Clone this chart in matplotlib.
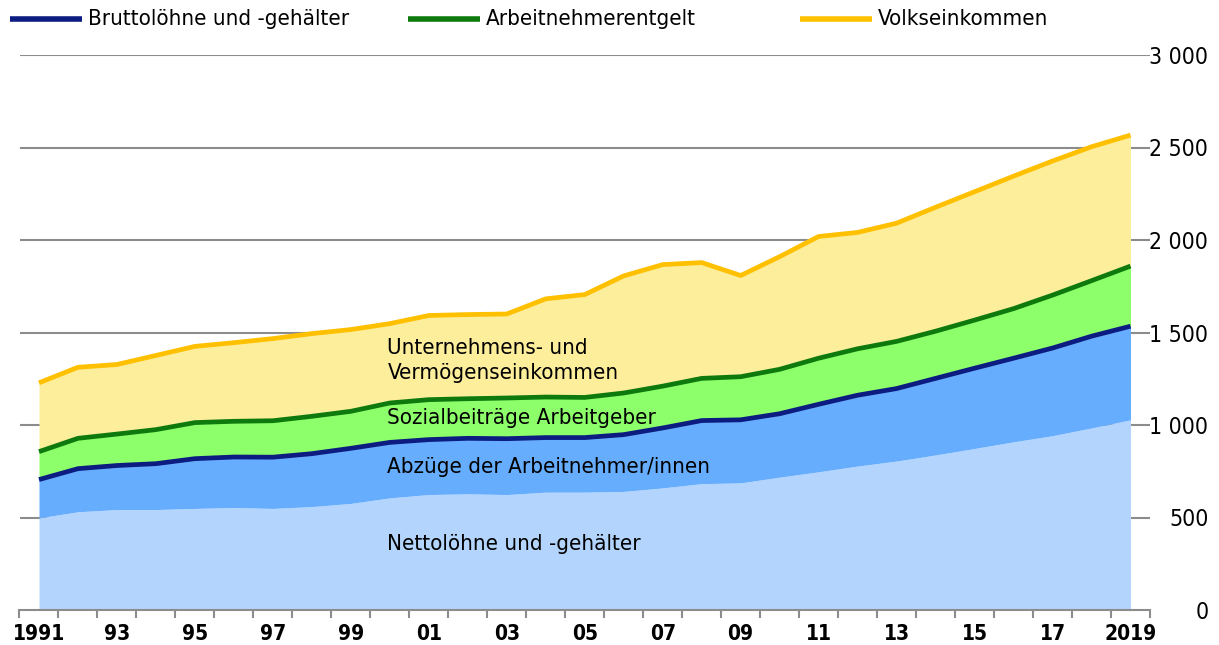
import matplotlib
matplotlib.use("Agg")
import matplotlib.pyplot as plt
from matplotlib.lines import Line2D
import numpy as np

years = list(range(1991, 2020))
volkseinkommen = [1228, 1312, 1327, 1376, 1425, 1445, 1467, 1494, 1516, 1548, 1592, 1597, 1600, 1682, 1705,
                  1806, 1867, 1878, 1808, 1910, 2019, 2041, 2091, 2177, 2261, 2345, 2427, 2504, 2567]
arbeitnehmerentgelt = [856, 928, 951, 975, 1013, 1020, 1023, 1047, 1074, 1119, 1137, 1142, 1146, 1151, 1149,
                       1173, 1210, 1252, 1261, 1301, 1361, 1412, 1452, 1507, 1567, 1629, 1702, 1780, 1859]
bruttoloehne = [705, 764, 781, 791, 818, 827, 826, 845, 874, 906, 921, 928, 926, 932, 932,
                948, 984, 1024, 1028, 1061, 1112, 1161, 1197, 1252, 1307, 1361, 1416, 1480, 1534]
nettoloehne = [498, 531, 543, 543, 549, 554, 549, 559, 576, 606, 624, 628, 624, 637, 637,
               641, 660, 683, 687, 718, 747, 778, 805, 838, 873, 909, 942, 984, 1028]

xtick_years = [1991, 1993, 1995, 1997, 1999, 2001, 2003, 2005, 2007, 2009, 2011, 2013, 2015, 2017, 2019]
xtick_labels = ["1991", "93", "95", "97", "99", "01", "03", "05", "07", "09", "11", "13", "15", "17", "2019"]
ytick_vals = [0, 500, 1000, 1500, 2000, 2500, 3000]
ytick_labels = ["0", "500", "1 000", "1 500", "2 000", "2 500", "3 000"]

legend_labels = ["Bruttolöhne und -gehälter", "Arbeitnehmerentgelt", "Volkseinkommen"]
area_labels = ["Unternehmens- und\nVermögenseinkommen", "Sozialbeiträge Arbeitgeber",
               "Abzüge der Arbeitnehmer/innen", "Nettolöhne und -gehälter"]

FONT = dict(family="DejaVu Sans", stretch="condensed")
plt.rcParams['font.family'] = 'DejaVu Sans'

c_netto = "#b3d5fd"
c_abz = "#66adfd"
c_sozial = "#8dff6a"
c_unt = "#fdee9b"
c_brutto_line = "#0c1c80"
c_arb_line = "#0e7a0e"
c_volks_line = "#ffc000"
grid_c = "#8c8c8c"

W, H = 1219, 645
fig = plt.figure(figsize=(W / 100, H / 100), dpi=100)
ax = fig.add_axes([19.5 / W, 1 - 610 / H, (1150 - 19.5) / W, (610 - 55) / H])

x = np.array(years)
ax.fill_between(x, 0, nettoloehne, color=c_netto, lw=0, zorder=2)
ax.fill_between(x, nettoloehne, bruttoloehne, color=c_abz, lw=0, zorder=2)
ax.fill_between(x, bruttoloehne, arbeitnehmerentgelt, color=c_sozial, lw=0, zorder=2)
ax.fill_between(x, arbeitnehmerentgelt, volkseinkommen, color=c_unt, lw=0, zorder=2)
ax.plot(x, bruttoloehne, color=c_brutto_line, lw=3.4, solid_capstyle='butt', solid_joinstyle='round', zorder=3)
ax.plot(x, arbeitnehmerentgelt, color=c_arb_line, lw=3.4, solid_capstyle='butt', solid_joinstyle='round', zorder=3)
ax.plot(x, volkseinkommen, color=c_volks_line, lw=3.4, solid_capstyle='butt', solid_joinstyle='round', zorder=3)

ax.set_xlim(1990.5, 2019.5)
ax.set_ylim(0, 3000)

for s in ["top", "left", "right"]:
    ax.spines[s].set_visible(False)
ax.spines["bottom"].set_color(grid_c)
ax.spines["bottom"].set_linewidth(1.5)
ax.spines["bottom"].set_zorder(4)

# gridlines
for v in ytick_vals[1:]:
    ax.axhline(v, color=grid_c, lw=1.5, zorder=1)

ax.yaxis.tick_right()
ax.set_yticks(ytick_vals)
ax.set_yticklabels(ytick_labels, fontsize=16.5, **FONT)
ax.tick_params(axis='y', length=0, pad=42)
for t in ax.get_yticklabels():
    t.set_horizontalalignment('right')

ax.set_xticks(xtick_years)
ax.set_xticklabels(xtick_labels, fontsize=15, fontweight='bold', **FONT)
ax.set_xticks(np.arange(1990.5, 2020, 1.0), minor=True)
ax.tick_params(axis='x', which='major', length=0, pad=10)
ax.tick_params(axis='x', which='minor', length=6, width=1.5, color=grid_c)

# area labels
tx = 1999.94
ax.text(tx, 1350, area_labels[0], fontsize=16, va='center', ha='left', linespacing=1.3, zorder=5, **FONT)
ax.text(tx, 1040, area_labels[1], fontsize=16, va='center', ha='left', zorder=5, **FONT)
ax.text(tx, 773, area_labels[2], fontsize=16, va='center', ha='left', zorder=5, **FONT)
ax.text(tx, 355, area_labels[3], fontsize=16, va='center', ha='left', zorder=5, **FONT)

# legend (manual, figure coords)
leg_colors = [c_brutto_line, c_arb_line, c_volks_line]
leg_x = [10, 408, 800]
ly = 1 - 19 / H
for lx, col, lab in zip(leg_x, leg_colors, legend_labels):
    fig.add_artist(Line2D([lx / W, (lx + 72) / W], [ly, ly], color=col, lw=4, solid_capstyle='butt'))
    fig.text((lx + 78) / W, ly, lab, fontsize=16, va='center', ha='left', **FONT)

fig.savefig("out.png", dpi=100)
